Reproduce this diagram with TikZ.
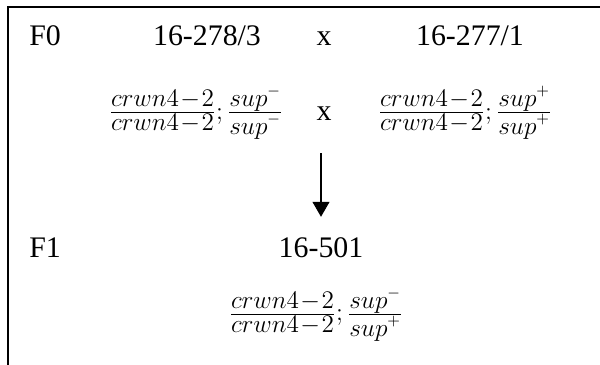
\documentclass[tikz,border=0pt]{standalone}
\usepackage{fontspec}
\setmainfont{Liberation Serif}
\usepackage{amsmath}
\usetikzlibrary{arrows.meta, positioning}

% genotype fraction with full-size terms
\newcommand{\gtfrac}[2]{\frac{\raisebox{1.5pt}{$\displaystyle #1$}}{\displaystyle #2}}
\newcommand{\crwnal}{crwn4\mkern-3mu-\mkern-3mu2}

\begin{document}
\begin{tikzpicture}[
  x=0.02cm, y=-0.02cm,
  lbl/.style={inner sep=0pt, anchor=base, font=\fontsize{17}{20}\selectfont},
  gen/.style={inner sep=0pt, anchor=base, font=\fontsize{13.5}{16}\selectfont},
  frame/.style={line width=1.1pt, color=black},
  arr/.style={-{Triangle[length=0.3cm, width=0.34cm]}, line width=0.6pt}
]
\useasboundingbox (0,0) rectangle (600,365);

% ── Frame (top and left edge only) ────────────────────────────────────────
\draw[frame] (8,365) -- (8,7) -- (600,7);

% ── Row F0: parents ───────────────────────────────────────────────────────
\node[lbl, anchor=base west] (f0) at (29,46) {F0};
\node[lbl] (par1)   at (207,46) {16-278/3};
\node[lbl] (cross1) at (324,46) {x};
\node[lbl] (par2)   at (470,46) {16-277/1};

\node[gen] (gen1)   at (196,119)
      {$\gtfrac{\crwnal}{\crwnal};\gtfrac{sup^{-}}{sup^{-}}$};
\node[lbl] (cross2) at (324,120) {x};
\node[gen] (gen2)   at (465,119)
      {$\gtfrac{\crwnal}{\crwnal};\gtfrac{sup^{+}}{sup^{+}}$};

% ── Row F1: hybrid ────────────────────────────────────────────────────────
\node[lbl, anchor=base west] (f1) at (29,257) {F1};
\node[lbl] (hyb)  at (321,257) {16-501};
\node[gen] (gen3) at (316,321)
      {$\gtfrac{\crwnal}{\crwnal};\gtfrac{sup^{-}}{sup^{+}}$};

% ── Arrow: cross → hybrid ─────────────────────────────────────────────────
\draw[arr, shorten <=0.66cm, shorten >=0.4cm] (hyb.north |- cross2.south) -- (hyb.north);

\end{tikzpicture}
\end{document}
